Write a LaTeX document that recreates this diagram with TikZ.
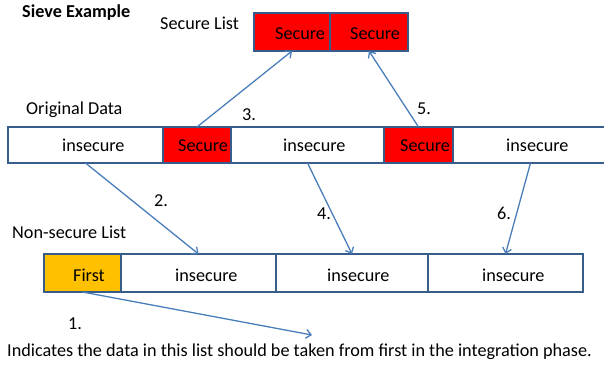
\documentclass[tikz,border=0pt]{standalone}
\usepackage{fontspec}
\setmainfont{Carlito}
\usetikzlibrary{arrows.meta}
\definecolor{bord}{HTML}{385D8A}
\definecolor{arr}{HTML}{4A7EBB}
\definecolor{orng}{HTML}{FFC000}
\definecolor{redc}{HTML}{FF0000}
\begin{document}
\begin{tikzpicture}[x=1pt,y=-1pt,
  font=\fontsize{18.2}{21}\selectfont,
  cell/.style={draw=bord, line width=2.8pt, inner sep=0pt, outer sep=0pt,
    anchor=north west, minimum height=36pt, fill=white},
  sec/.style={cell, fill=redc},
  txt/.style={inner sep=0pt, anchor=base west},
  conn/.style={draw=arr, line width=1.3pt, -{Straight Barb[length=5pt,width=9pt]}}]
\useasboundingbox (0,0) rectangle (604,364);

% titles and labels
\node[txt, font=\fontsize{18.2}{21}\selectfont\bfseries] (title) at (22,17) {Sieve Example};
\node[txt] (lsec) at (160,29) {Secure List};
\node[txt] (lorig) at (26,114) {Original Data};
\node[txt] (lnon) at (12,238) {Non-secure List};

% secure list
\node[sec, minimum width=76pt, minimum height=38pt] (s1) at (254,13) {};
\node[sec, minimum width=78pt, minimum height=38pt] (s2) at (330,13) {};
\node[txt] (ts1) at (275,39) {Secure};
\node[txt] (ts2) at (350,39) {Secure};

% original data
\node[cell, minimum width=155pt] (o1) at (8,127) {};
\node[sec, minimum width=68pt] (o2) at (163,127) {};
\node[cell, minimum width=153pt] (o3) at (231,127) {};
\node[sec, minimum width=69pt] (o4) at (384,127) {};
\node[cell, minimum width=155pt] (o5) at (453,127) {};
\node[txt] (to1) at (62,151) {insecure};
\node[txt] (to2) at (178,151) {Secure};
\node[txt] (to3) at (283,151) {insecure};
\node[txt] (to4) at (400,151) {Secure};
\node[txt] (to5) at (506,151) {insecure};

% non-secure list
\node[cell, fill=orng, minimum width=77pt, minimum height=38pt] (n1) at (44,254) {};
\node[cell, minimum width=155pt, minimum height=38pt] (n2) at (121,254) {};
\node[cell, minimum width=152pt, minimum height=38pt] (n3) at (276,254) {};
\node[cell, minimum width=155pt, minimum height=38pt] (n4) at (428,254) {};
\node[txt] (tn1) at (73,281) {First};
\node[txt] (tn2) at (175,281) {insecure};
\node[txt] (tn3) at (327,281) {insecure};
\node[txt] (tn4) at (482,281) {insecure};

% step numbers
\node[txt] (k1) at (68,329) {1.};
\node[txt] (k2) at (154,206) {2.};
\node[txt] (k3) at (242,120) {3.};
\node[txt] (k4) at (317,219) {4.};
\node[txt] (k5) at (417,114) {5.};
\node[txt] (k6) at (497,219) {6.};

% note
\node[txt] (note) at (7,356) {Indicates the data in this list should be taken from first in the integration phase.};
\coordinate (c1) at (312,335);

% connectors
\draw[conn] (o2.north) -- (s1.south);
\draw[conn] (o4.north) -- (s2.south);
\draw[conn] (o1.south) -- (n2.north);
\draw[conn] (o3.south) -- (n3.north);
\draw[conn] (o5.south) -- (n4.north);
\draw[conn] (n1.south) -- (c1);
\end{tikzpicture}
\end{document}
